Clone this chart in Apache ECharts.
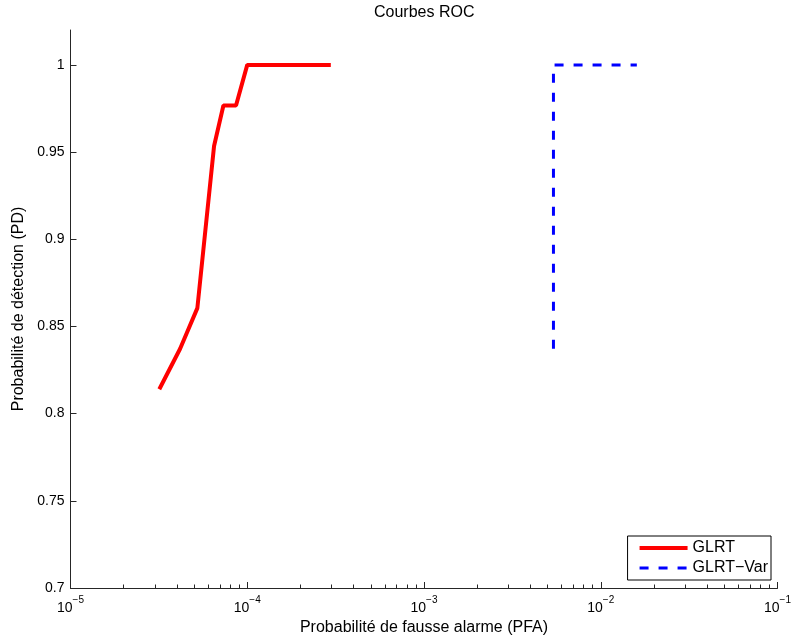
<!DOCTYPE html>
<html>
<head>
<meta charset="utf-8">
<script src="https://cdn.jsdelivr.net/npm/echarts@6/dist/echarts.min.js"></script>
<style>html,body{margin:0;padding:0;background:#fff;}#c{width:792px;height:639px;}</style>
</head>
<body>
<div id="c"></div>
<script>
const titleText = 'Courbes ROC';
const xName = 'Probabilité de fausse alarme (PFA)';
const yName = 'Probabilité de détection (PD)';
const seriesNames = ['GLRT', 'GLRT\u2212Var'];
const glrtPFA = [3.18e-5, 4.17e-5, 5.22e-5, 6.49e-5, 7.33e-5, 8.64e-5, 1.0e-4, 2.97e-4];
const glrtPD = [0.8140, 0.8372, 0.8605, 0.9535, 0.9767, 0.9767, 1.0, 1.0];
const glrtVarPFA = [5.4e-3, 5.4e-3, 1.6e-2];
const glrtVarPD = [0.8372, 1.0, 1.0];
const xMajorTicks = [1e-5, 1e-4, 1e-3, 1e-2, 1e-1];
const xMinorMantissa = [2, 3, 4, 5, 6, 7, 8, 9];
const yTicks = [0.7, 0.75, 0.8, 0.85, 0.9, 0.95, 1];

const xMinorTicks = [];
xMajorTicks.slice(0, -1).forEach(function (d) {
  xMinorMantissa.forEach(function (m) { xMinorTicks.push(m * d); });
});

const FONT = 'Liberation Sans, Arial, Helvetica, sans-serif';
const AX = '#262626';

const chart = echarts.init(document.getElementById('c'), null, {renderer: 'canvas'});
chart.setOption({
  animation: false,
  backgroundColor: '#fff',
  title: {
    text: titleText, left: 374, top: 0, padding: [5, 0, 5, 0],
    textStyle: {fontFamily: FONT, fontSize: 16, fontWeight: 'normal', color: '#000'}
  },
  grid: {left: 70.5, right: 14.5, top: 30, bottom: 51, containLabel: false, outerBoundsMode: 'none'},
  legend: {
    orient: 'vertical', right: 21, top: 536,
    backgroundColor: '#fff', borderColor: '#000', borderWidth: 1,
    padding: [4, 3, 4, 10], itemWidth: 48, itemHeight: 16, itemGap: 4,
    itemStyle: {opacity: 0, color: 'rgba(0,0,0,0)', borderWidth: 0},
    textStyle: {fontFamily: FONT, fontSize: 16, color: '#000'},
    data: [
      {name: seriesNames[0], lineStyle: {width: 4}},
      {name: seriesNames[1], lineStyle: {width: 3}}
    ]
  },
  xAxis: [{
    type: 'log', logBase: 10, min: 1e-5, max: 1e-1, gridIndex: 0,
    name: xName, nameLocation: 'middle', nameGap: 29,
    nameTextStyle: {fontFamily: FONT, fontSize: 16, color: '#000'},
    axisLine: {show: true, lineStyle: {color: AX, width: 1}},
    axisTick: {show: true, inside: true, length: 6, lineStyle: {color: AX}},
    axisLabel: {
      margin: 7,
      formatter: function (v) { return '{b|10}{s|' + String(Math.round(Math.log10(v))).replace('-', '\u2212') + '}'; },
      rich: {
        b: {fontFamily: FONT, fontSize: 14, color: '#000', verticalAlign: 'bottom', padding: [6, 0, 0, 0]},
        s: {fontFamily: FONT, fontSize: 10, color: '#000', verticalAlign: 'top', padding: [0, 0, 6, 0]}
      }
    },
    splitLine: {show: false}, minorTick: {show: false}
  }, {
    type: 'log', logBase: 10, min: 1e-5, max: 1e-1, gridIndex: 0, position: 'bottom',
    axisLine: {show: false},
    axisTick: {show: true, inside: true, length: 3.5, customValues: xMinorTicks, lineStyle: {color: AX}},
    axisLabel: {show: false},
    splitLine: {show: false}
  }],
  yAxis: {
    type: 'value', min: 0.7, max: 1.02,
    name: yName, nameLocation: 'middle', nameGap: 44,
    nameTextStyle: {fontFamily: FONT, fontSize: 16, color: '#000'},
    axisLine: {show: true, lineStyle: {color: AX, width: 1}},
    axisTick: {show: true, inside: true, length: 6, customValues: yTicks, lineStyle: {color: AX}},
    axisLabel: {
      customValues: yTicks, margin: 6, inside: false,
      fontFamily: FONT, fontSize: 14, color: '#000',
      formatter: function (v) { return String(+v.toFixed(2)); }
    },
    splitLine: {show: false}
  },
  series: [{
    name: seriesNames[0], type: 'line', xAxisIndex: 0,
    data: glrtPFA.map(function (x, i) { return [x, glrtPD[i]]; }),
    symbol: 'none', lineStyle: {color: '#ff0000', width: 4}, itemStyle: {color: '#ff0000'}
  }, {
    name: seriesNames[1], type: 'line', xAxisIndex: 0,
    data: glrtVarPFA.map(function (x, i) { return [x, glrtVarPD[i]]; }),
    symbol: 'none', lineStyle: {color: '#0000ff', width: 3, type: [9, 10]}, itemStyle: {color: '#0000ff'}
  }]
});
</script>
</body>
</html>
